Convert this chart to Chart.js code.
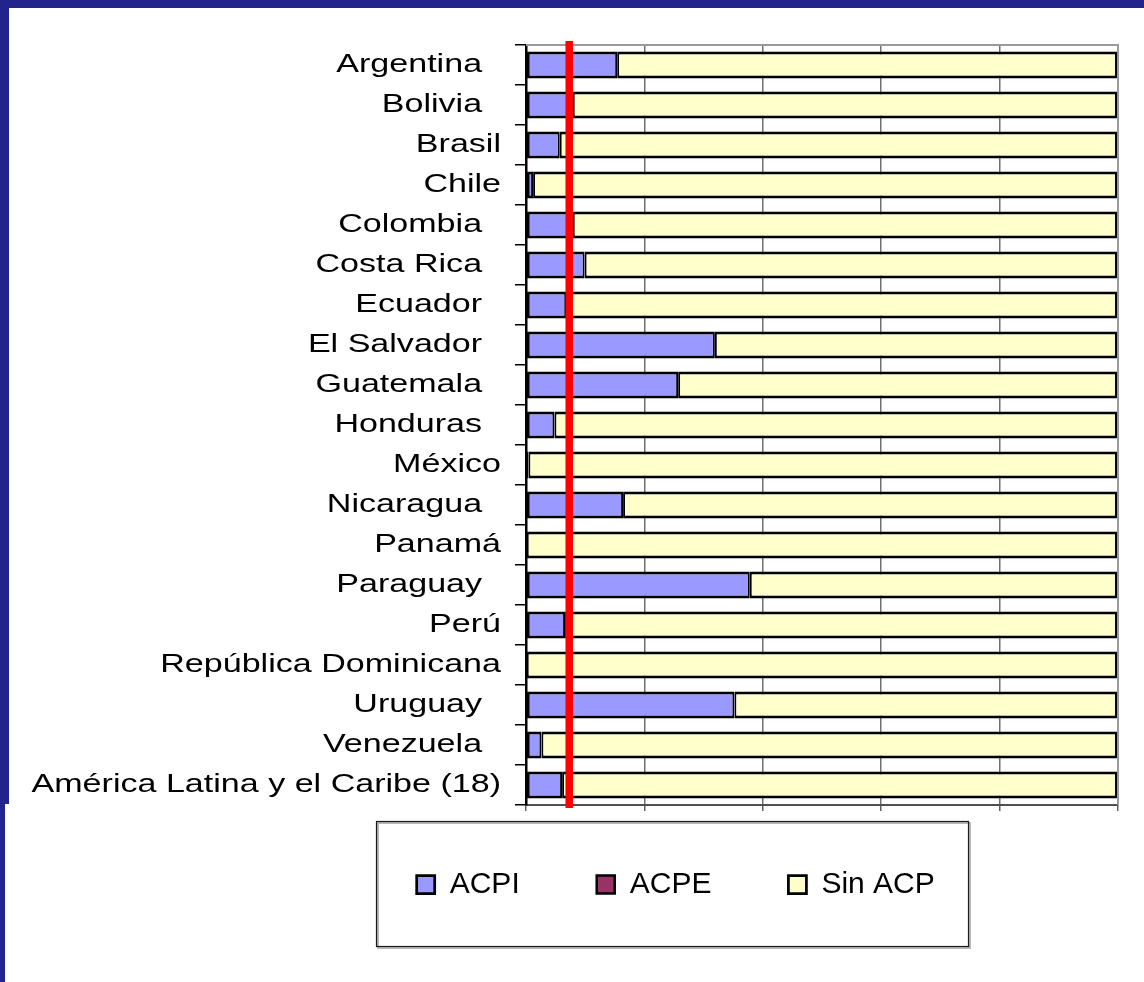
<!DOCTYPE html>
<html>
<head>
<meta charset="utf-8">
<script src="https://cdn.jsdelivr.net/npm/chart.js@4.4.1/dist/chart.umd.min.js"></script>
<style>
  html, body { margin: 0; padding: 0; background: #23238E; width: 1144px; height: 982px; overflow: hidden; }
  #panel1 { position: absolute; left: 9px; top: 8px; right: 0; bottom: 0; background: #ffffff; }
  #panel2 { position: absolute; left: 5px; top: 804px; right: 0; bottom: 0; background: #ffffff; }
  #wrap { position: absolute; left: 0; top: 0; width: 1144px; height: 982px; }
</style>
</head>
<body>
<div id="panel1"></div>
<div id="panel2"></div>
<div id="wrap"><canvas id="c" width="1144" height="982"></canvas></div>
<script>
// ---- data ----
const categories = [
  "Argentina", "Bolivia", "Brasil", "Chile", "Colombia", "Costa Rica", "Ecuador",
  "El Salvador", "Guatemala", "Honduras", "México", "Nicaragua", "Panamá", "Paraguay",
  "Perú", "República Dominicana", "Uruguay", "Venezuela", "América Latina y el Caribe (18)"
];
const seriesNames = ["ACPI", "ACPE", "Sin ACP"];
const acpi   = [15.4, 7.9, 5.7, 1.2, 7.9, 9.9, 6.8, 31.9, 25.7, 4.8, 0.4, 16.4, 0, 37.8, 6.6, 0, 35.2, 2.6, 6.1];
const acpe   = [0, 0, 0, 0, 0, 0, 0, 0, 0, 0, 0, 0, 0, 0, 0, 0, 0, 0, 0];
const sinAcp = [84.6, 92.1, 94.3, 98.8, 92.1, 90.1, 93.2, 68.1, 74.3, 95.2, 99.6, 83.6, 100, 62.2, 93.4, 100, 64.8, 97.4, 93.9];
const xTickValues = [0, 20, 40, 60, 80, 100];
const referenceLineValue = 7.3;

// labels that carry trailing blanks in the original slide
const paddedLabels = ["Argentina", "Bolivia", "Colombia", "Costa Rica", "Ecuador", "El Salvador",
  "Guatemala", "Honduras", "Nicaragua", "Paraguay", "Uruguay", "Venezuela"];

const FONT = "'Liberation Sans', Arial, sans-serif";
const LABEL_STRETCH = 1.31;
const Y_TICK_LEN = 11;
const Y_TICK_PAD = 14;

const stretchPlugin = {
  id: 'stretchLabels',
  beforeDraw(chart) {
    const s = chart.scales.y;
    if (!s || s._stretched) return;
    const orig = Object.getPrototypeOf(s).drawLabels;
    s.drawLabels = function (area) {
      const c = this.ctx;
      const x0 = this.right - Y_TICK_LEN - Y_TICK_PAD;
      c.save();
      c.translate(x0, 0);
      c.scale(LABEL_STRETCH, 1);
      c.translate(-x0, 0);
      orig.call(this, area);
      c.restore();
    };
    s._stretched = true;
  }
};

const legendPlacePlugin = {
  id: 'legendPlace',
  afterLayout(chart) {
    const lg = chart.legend;
    if (!lg) return;
    const pad = lg.options.labels.padding;
    lg.left = 416.7 - pad;
    lg.right = 1144;
    lg.top = 869.5 - pad;
    lg.bottom = 982;
    lg.width = lg.right - lg.left;
    lg.height = lg.bottom - lg.top;
  },
  afterDraw(chart) {
    const c = chart.ctx;
    c.save();
    c.strokeStyle = '#a0a0a0';
    c.lineWidth = 1.5;
    c.strokeRect(378, 823, 592, 125);
    c.strokeStyle = '#1a1a1a';
    c.lineWidth = 1.2;
    c.strokeRect(376.5, 821.5, 592, 125);
    c.restore();
  }
};

const overlayPlugin = {
  id: 'overlay',
  afterDatasetsDraw(chart) {
    const c = chart.ctx;
    const a = chart.chartArea;
    c.save();
    c.strokeStyle = '#9a9a9a';
    c.lineWidth = 2;
    c.beginPath();
    c.moveTo(a.left, a.top);
    c.lineTo(a.right, a.top);
    c.lineTo(a.right, a.bottom);
    c.stroke();
    const x = chart.scales.x.getPixelForValue(referenceLineValue);
    c.strokeStyle = '#FF0000';
    c.lineWidth = 7.5;
    c.beginPath();
    c.moveTo(x, a.top - 4);
    c.lineTo(x, a.bottom + 3);
    c.stroke();
    c.restore();
  }
};

new Chart(document.getElementById('c'), {
  type: 'bar',
  data: {
    labels: categories,
    datasets: [
      { label: seriesNames[0], data: acpi, backgroundColor: '#9999FF', borderColor: '#000000',
        borderWidth: { top: 3, bottom: 3, left: 3, right: 2 }, borderSkipped: false },
      { label: seriesNames[1], data: acpe, backgroundColor: '#993366', borderColor: '#000000',
        borderWidth: { top: 3, bottom: 3, left: 2, right: 2 }, borderSkipped: false },
      { label: seriesNames[2], data: sinAcp, backgroundColor: '#FFFFCC', borderColor: '#000000',
        borderWidth: { top: 3, bottom: 3, left: 2, right: 3 }, borderSkipped: false }
    ]
  },
  options: {
    indexAxis: 'y',
    responsive: false,
    devicePixelRatio: 1,
    animation: false,
    layout: { padding: { top: 45, right: 26, bottom: 170, left: 0 } },
    datasets: { bar: { barPercentage: 0.68, categoryPercentage: 1.0 } },
    scales: {
      x: {
        stacked: true,
        min: 0,
        max: 100,
        afterBuildTicks(scale) { scale.ticks = xTickValues.map(v => ({ value: v })); },
        ticks: { display: false },
        grid: { color: '#707070', lineWidth: 1.5, drawTicks: true, tickLength: 6, tickColor: '#606060' },
        border: { display: true, color: '#505050', width: 2 }
      },
      y: {
        stacked: true,
        afterFit(scale) { scale.width = 526; },
        ticks: {
          autoSkip: false,
          padding: Y_TICK_PAD,
          color: '#000000',
          font: { family: FONT, size: 26 },
          callback(value, index) {
            const name = categories[index];
            return paddedLabels.includes(name) ? name + '  ' : name;
          }
        },
        grid: { offset: true, drawOnChartArea: false, drawTicks: true, tickLength: Y_TICK_LEN, color: '#000000', lineWidth: 1.5 },
        border: { display: true, color: '#000000', width: 2.5 }
      }
    },
    plugins: {
      tooltip: { enabled: false },
      legend: {
        display: true,
        position: 'bottom',
        align: 'start',
        maxHeight: 1,
        labels: {
          color: '#000000',
          font: { family: FONT, size: 30 },
          boxWidth: 18,
          boxHeight: 18,
          padding: 77
        }
      }
    }
  },
  plugins: [stretchPlugin, legendPlacePlugin, overlayPlugin]
});
</script>
</body>
</html>
